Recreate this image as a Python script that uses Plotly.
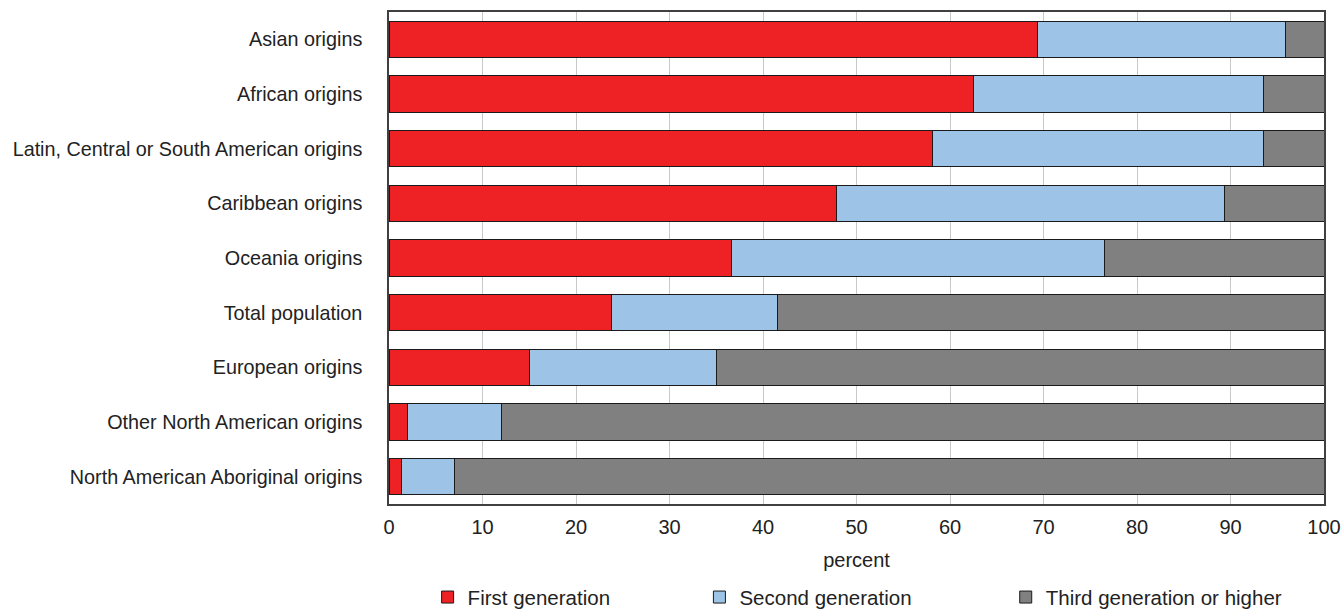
import plotly.graph_objects as go

categories = [
    "Asian origins",
    "African origins",
    "Latin, Central or South American origins",
    "Caribbean origins",
    "Oceania origins",
    "Total population",
    "European origins",
    "Other North American origins",
    "North American Aboriginal origins",
]
first_gen = [69.4, 62.5, 58.1, 47.9, 36.6, 23.8, 15.0, 2.0, 1.3]
second_gen = [26.5, 31.0, 35.4, 41.5, 39.9, 17.7, 20.0, 10.0, 5.7]
third_gen = [4.1, 6.5, 6.5, 10.6, 23.5, 58.5, 65.0, 88.0, 93.0]
series_names = ["First generation", "Second generation", "Third generation or higher"]
x_ticks = [0, 10, 20, 30, 40, 50, 60, 70, 80, 90, 100]

colors = ["#EE2224", "#9DC3E6", "#808080"]
legend_ids = ["legend", "legend2", "legend3"]
FONT = "Liberation Sans, Arial, sans-serif"
TXT = "#222222"

fig = go.Figure()
for vals, name, col, lg in zip([first_gen, second_gen, third_gen], series_names, colors, legend_ids):
    fig.add_trace(go.Bar(
        y=categories, x=vals, name=name, orientation="h",
        marker=dict(color=col, line=dict(color="#1a1a1a", width=1)),
        legend=lg,
    ))

leg_common = dict(orientation="h", yanchor="middle", xanchor="left",
                  font=dict(family=FONT, size=20.5, color=TXT), bgcolor="rgba(0,0,0,0)",
                  borderwidth=0)

fig.update_layout(
    template="none",
    width=1341, height=609,
    margin=dict(l=389, r=17, t=12, b=105, autoexpand=False),
    barmode="stack", bargap=0.33,
    plot_bgcolor="white", paper_bgcolor="white",
    font=dict(family=FONT, size=20, color=TXT),
    legend=dict(x=0.0413, y=-0.1895, **leg_common),
    legend2=dict(x=0.332, y=-0.1895, **leg_common),
    legend3=dict(x=0.6596, y=-0.1895, **leg_common),
    xaxis=dict(
        range=[0, 100], tickvals=x_ticks, ticktext=[str(v) for v in x_ticks],
        showgrid=True, gridcolor="#c8c8c8", gridwidth=1,
        showline=True, linecolor="#404040", linewidth=1.5, mirror=True,
        ticks="", zeroline=False, ticklabelstandoff=4, automargin=False,
        tickfont=dict(family=FONT, size=20, color=TXT),
        title=dict(text="percent", font=dict(family=FONT, size=20, color=TXT), standoff=16),
    ),
    yaxis=dict(
        categoryorder="array", categoryarray=categories, autorange="reversed",
        showline=True, linecolor="#404040", linewidth=1.5, mirror=True,
        showgrid=False, ticks="", ticklabelstandoff=21, automargin=False,
        tickfont=dict(family=FONT, size=19.8, color=TXT),
    ),
    showlegend=True,
)

fig.write_html(
    "out.html",
    config={"displayModeBar": False},
    post_script="document.body.style.margin='0';document.body.style.padding='0';document.body.style.overflow='hidden';",
)
